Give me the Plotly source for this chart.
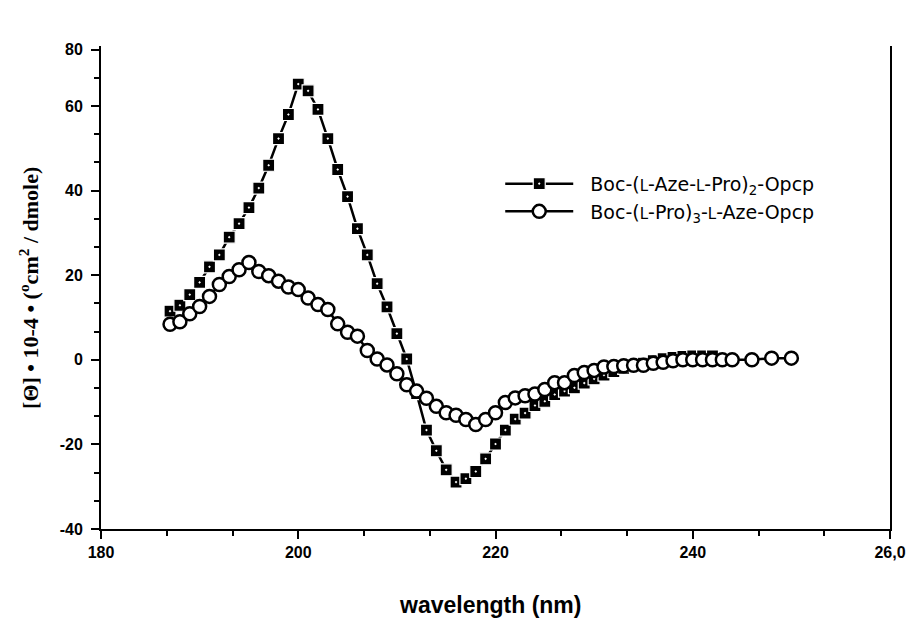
import plotly.graph_objects as go

# --- data ---
wl_aze = list(range(187, 243))
theta_aze = [11.5, 12.9, 15.4, 18.3, 22.0, 24.8, 29.0, 32.2, 36.0, 40.6,
             46.0, 52.3, 58.0, 65.2, 63.6, 59.2, 52.3, 45.0, 38.6, 31.0,
             24.8, 18.0, 12.5, 6.2, 0.2, -8.0, -16.6, -21.5, -26.0, -28.9,
             -28.1, -26.4, -23.4, -19.9, -16.6, -14.0, -12.6, -10.8, -9.8, -8.2,
             -7.4, -6.6, -5.5, -4.5, -3.6, -2.8, -2.0, -1.4, -0.8, -0.2,
             0.3, 0.6, 0.8, 0.9, 0.9, 0.9]

wl_pro = list(range(187, 245)) + [246, 248, 250]
theta_pro = [8.4, 9.0, 10.9, 12.6, 15.0, 17.8, 19.7, 21.3, 23.0, 20.9,
             19.9, 18.6, 17.2, 16.6, 14.6, 13.1, 11.9, 8.5, 6.5, 5.6,
             2.2, 0.2, -1.2, -3.3, -5.9, -7.4, -9.1, -11.0, -12.5, -13.1,
             -14.1, -15.3, -14.1, -12.5, -10.1, -9.0, -8.5, -8.1, -7.0, -5.4,
             -5.4, -3.7, -3.0, -2.5, -1.7, -1.6, -1.4, -1.3, -1.3, -0.8,
             -0.6, -0.2, 0.0, 0.0, 0.0, 0.0, 0.0, 0.0, 0.0, 0.4, 0.4]

x_tickvals = [180, 200, 220, 240, 260]
x_ticktext = ["180", "200", "220", "240", "26,0"]
y_tickvals = [-40, -20, 0, 20, 40, 60, 73.33]
y_ticktext = ["-40", "-20", "0", "20", "40", "60", "80"]

sc = "<span style='font-size:15px'>L</span>"
pad = "\u00a0\u00a0"
name_aze = f"{pad}Boc-({sc}-Aze-{sc}-Pro)<sub>2</sub>-Opcp"
name_pro = f"{pad}Boc-({sc}-Pro)<sub>3</sub>-{sc}-Aze-Opcp"

fig = go.Figure()
fig.add_trace(go.Scatter(
    x=wl_aze, y=theta_aze, mode="lines+markers", name=name_aze,
    line=dict(color="black", width=2.5),
    marker=dict(symbol="square-dot", size=12, color="black",
                line=dict(color="white", width=1.2)),
))
fig.add_trace(go.Scatter(
    x=wl_pro, y=theta_pro, mode="lines+markers", name=name_pro,
    line=dict(color="black", width=2.5),
    marker=dict(symbol="circle", size=13, color="white",
                line=dict(color="black", width=2.5)),
))

tickfont = dict(family="Liberation Sans, Arial, sans-serif", size=16,
                color="black", weight="bold")

fig.update_xaxes(
    range=[180, 260], tickmode="array", tickvals=x_tickvals, ticktext=x_ticktext,
    ticks="outside", ticklen=8, tickwidth=2, tickcolor="black",
    showline=True, linewidth=2, linecolor="black", mirror=False,
    showgrid=False, zeroline=False, tickfont=tickfont, automargin=False,
    minor=dict(tickmode="linear", tick0=180, dtick=20 / 3, ticks="outside",
               ticklen=5, tickwidth=2, tickcolor="black", showgrid=False),
)
fig.update_yaxes(
    range=[-40, 74.2], tickmode="array", tickvals=y_tickvals, ticktext=y_ticktext,
    ticks="outside", ticklen=8, tickwidth=2, tickcolor="black",
    showline=True, linewidth=2, linecolor="black", mirror=True,
    showgrid=False, zeroline=False, tickfont=tickfont, automargin=False,
    ticklabelstandoff=5,
    minor=dict(tickmode="linear", tick0=-40, dtick=20 / 3, ticks="outside",
               ticklen=5, tickwidth=2, tickcolor="black", showgrid=False),
)

fig.add_annotation(
    text="[Θ] • 10-4 • (<sup>o</sup>cm<sup>2</sup> / dmole)",
    xref="paper", yref="paper", x=-0.092, y=0.5, xanchor="center", yanchor="middle",
    textangle=-90, showarrow=False,
    font=dict(family="Liberation Serif, Times New Roman, serif", size=22,
              color="black", weight="bold"),
)
fig.add_annotation(
    text="wavelength (nm)",
    xref="paper", yref="paper", x=0.493, y=-0.157, xanchor="center", yanchor="middle",
    showarrow=False,
    font=dict(family="Liberation Sans, Arial, sans-serif", size=23,
              color="black", weight="bold"),
)

fig.update_layout(
    width=910, height=619,
    margin=dict(l=101, r=20, t=46, b=90),
    paper_bgcolor="white", plot_bgcolor="white",
    showlegend=True,
    legend=dict(x=0.506, y=0.754, xanchor="left", yanchor="top",
                bgcolor="rgba(0,0,0,0)", itemwidth=68, tracegroupgap=0,
                font=dict(family="DejaVu Sans, Liberation Sans, sans-serif", size=19,
                          color="black")),
)

fig.write_html("out.html")
